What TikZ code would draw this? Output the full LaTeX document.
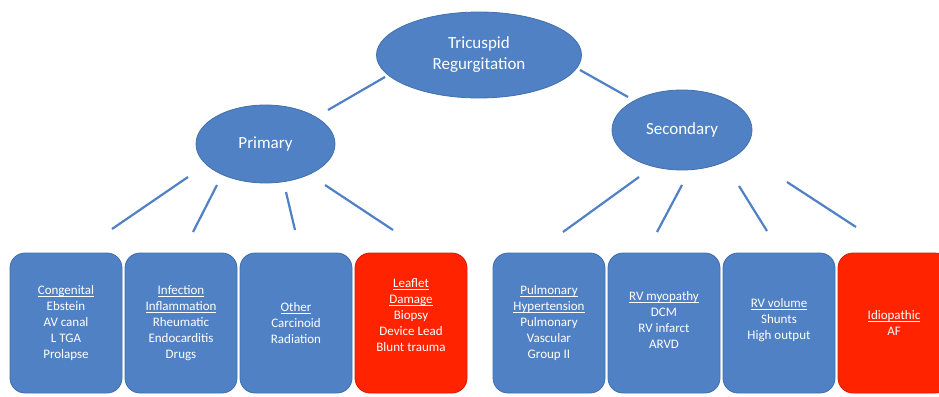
\documentclass[tikz,border=0pt]{standalone}
\usepackage{fontspec}
\setmainfont{Carlito}
\usetikzlibrary{shapes.geometric}
\definecolor{tblue}{RGB}{79,129,196}
\definecolor{tblueedge}{RGB}{66,112,170}
\definecolor{tred}{RGB}{255,35,0}
\definecolor{trededge}{RGB}{215,30,0}
\newcommand\myul[1]{\underline{\smash{#1}}\vphantom{#1}}
\begin{document}
\begin{tikzpicture}[x=1pt,y=-1pt,
  oval/.style={ellipse, fill=tblue, draw=tblueedge, line width=0.8pt, text=white,
    font=\fontsize{17}{21}\selectfont, align=center, inner sep=0pt},
  box/.style={rounded corners=15pt, fill=tblue, draw=tblueedge, line width=0.8pt,
    minimum width=112pt, minimum height=140pt, text=white,
    font=\fontsize{13}{16}\selectfont, align=center},
  redbox/.style={box, fill=tred, draw=trededge},
  boxtext/.style={text=white, font=\fontsize{13}{16}\selectfont, align=center},
  link/.style={draw=tblue, line width=2.2pt}]
\useasboundingbox (0,0) rectangle (939,396);
\clip (0,0) rectangle (939,396);

% ellipses
\node[oval, minimum width=205pt, minimum height=86pt] (tr) at (479,55) {Tricuspid\\Regurgitation};
\node[oval, minimum width=139pt, minimum height=78pt] (prim) at (265.5,144) {Primary};
\node[oval, minimum width=140pt, minimum height=80pt] (sec) at (682,130) {Secondary};

% boxes
\node[box] (b1) at (66,323) {\myul{Congenital}\\Ebstein\\AV canal\\L TGA\\Prolapse};
\node[box] (b2) at (181,323) {\myul{Infection}\\\myul{Inflammation}\\Rheumatic\\Endocarditis\\Drugs};
\node[box] (b3) at (296,323) {\myul{Other}\\Carcinoid\\Radiation};
\node[redbox] (b4) at (411,323) {};
\node[boxtext] (b4t) at (411,315) {\myul{Leaflet}\\\myul{Damage}\\Biopsy\\Device Lead\\Blunt trauma};
\node[box] (b5) at (549,323) {\myul{Pulmonary}\\\myul{Hypertension}\\Pulmonary\\Vascular\\Group II};
\node[box] (b6) at (664,323) {};
\node[boxtext] (b6t) at (664,320) {\myul{RV myopathy}\\DCM\\RV infarct\\ARVD};
\node[box] (b7) at (779,323) {};
\node[boxtext] (b7t) at (779,320) {\myul{RV volume}\\Shunts\\High output};
\node[redbox] (b8) at (894,323) {\myul{Idiopathic}\\AF};

% connector end points (lines float between the shapes)
\coordinate (tl1) at (328,110); \coordinate (tl2) at (385,77);
\coordinate (tr1) at (580,70);  \coordinate (tr2) at (628,97);
\coordinate (p1a) at (188,177); \coordinate (p1b) at (112,229);
\coordinate (p2a) at (217,185); \coordinate (p2b) at (193,232);
\coordinate (p3a) at (286,192); \coordinate (p3b) at (295,230);
\coordinate (p4a) at (325,185); \coordinate (p4b) at (393,230);
\coordinate (s1a) at (639,177); \coordinate (s1b) at (563,232);
\coordinate (s2a) at (682,185); \coordinate (s2b) at (657,232);
\coordinate (s3a) at (739,186); \coordinate (s3b) at (767,231);
\coordinate (s4a) at (787,182); \coordinate (s4b) at (856,227);

\draw[link] (tl1) -- (tl2);
\draw[link] (tr1) -- (tr2);
\draw[link] (p1a) -- (p1b);
\draw[link] (p2a) -- (p2b);
\draw[link] (p3a) -- (p3b);
\draw[link] (p4a) -- (p4b);
\draw[link] (s1a) -- (s1b);
\draw[link] (s2a) -- (s2b);
\draw[link] (s3a) -- (s3b);
\draw[link] (s4a) -- (s4b);
\end{tikzpicture}
\end{document}
